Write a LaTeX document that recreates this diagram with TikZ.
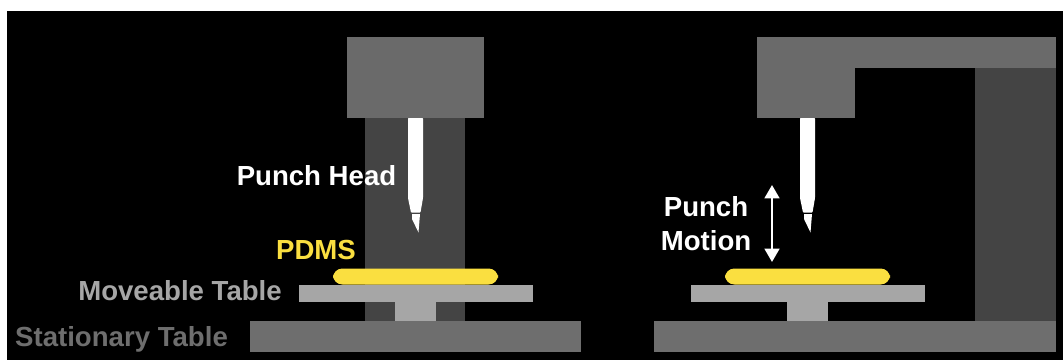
\documentclass[tikz,border=0pt]{standalone}
\usepackage{fontspec}
\usetikzlibrary{arrows.meta}
\setmainfont{Liberation Sans}
\definecolor{headgray}{HTML}{6A6A6A}
\definecolor{coldark}{HTML}{444444}
\definecolor{tablegray}{HTML}{A6A6A6}
\definecolor{stationgray}{HTML}{6E6E6E}
\definecolor{pdmsyellow}{HTML}{FADF40}
\tikzset{
  lbl/.style={font=\fontsize{20.7}{25}\selectfont\bfseries,inner sep=0pt,align=center},
}
\newcommand{\boxfill}[5]{\fill[#5] (#1,#2) rectangle (#3,#4);}
\newcommand{\punchat}[1]{%
  \fill[white,rounded corners=0.5] (#1+408,118) -- (#1+423,118) -- (#1+423,198) -- (#1+420.5,212.5) -- (#1+411,212.5) -- (#1+408,198) -- cycle;
  \fill[white] (#1+412,214) -- (#1+420,214) -- (#1+418.5,232.5) -- (#1+412,219) -- cycle;}
\begin{document}
\begin{tikzpicture}[x=0.75pt,y=-0.75pt]
\useasboundingbox (0,0) rectangle (1063,360);
\fill[white] (0,0) rectangle (1063,360);
\fill[black] (7,11) rectangle (1063,360);
% left machine
\boxfill{365}{118}{465}{321}{coldark}
\boxfill{347}{37}{484}{118}{headgray}
\punchat{0}
\boxfill{250}{320.5}{581}{352}{stationgray}
\boxfill{395}{301}{435.5}{320.5}{tablegray}
\boxfill{298.5}{284.5}{532.5}{301.5}{tablegray}
\fill[pdmsyellow,rounded corners=7pt] (333,268.5) rectangle (498,284.5);
% right machine
\boxfill{975}{68}{1056}{321}{coldark}
\boxfill{757}{37}{1056}{68}{headgray}
\boxfill{757}{37}{855}{118}{headgray}
\punchat{392}
\boxfill{654}{320.5}{1056}{352}{stationgray}
\boxfill{787}{301}{828}{320.5}{tablegray}
\boxfill{691}{284.5}{925}{301.5}{tablegray}
\fill[pdmsyellow,rounded corners=7pt] (725,268.5) rectangle (890,284.5);
% labels
\node[lbl,text=white] (ph) at (316.5,176) {Punch Head};
\node[lbl,text=pdmsyellow] (pd) at (316,250) {PDMS};
\node[lbl,text=tablegray] (mt) at (180,290.5) {Moveable Table};
\node[lbl,text=stationgray] (st) at (121.5,339.5) {Stationary Table};
\node[lbl,text=white] (pm1) at (706,207) {Punch};
\node[lbl,text=white] (pm2) at (706,241) {Motion};
\coordinate (up) at (772,185);
\coordinate (down) at (772,262);
\draw[white,line width=1.9pt,{Triangle[width=11pt,length=10pt]}-{Triangle[width=11pt,length=10pt]}] (up) -- (down);
\end{tikzpicture}
\end{document}
